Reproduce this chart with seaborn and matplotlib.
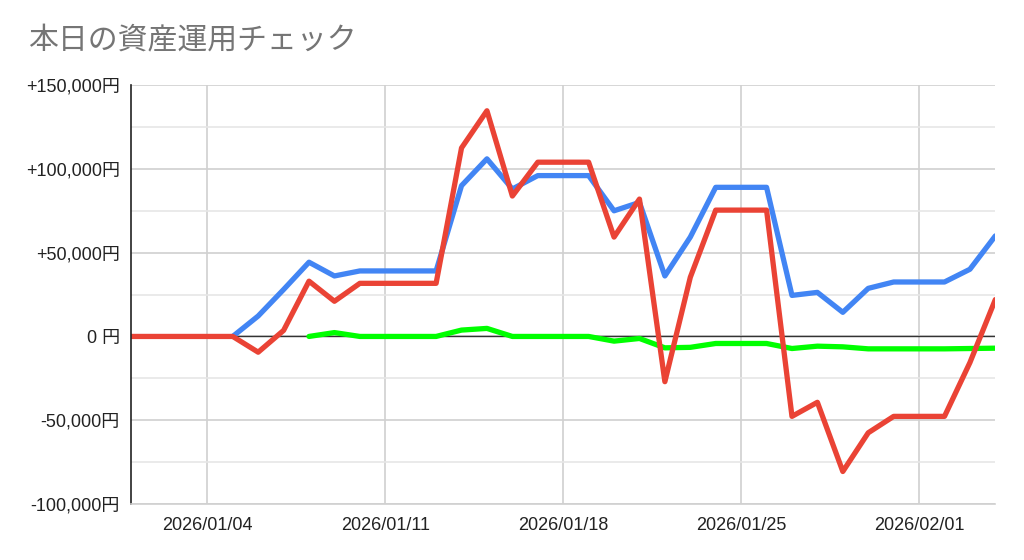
import pandas as pd
import seaborn as sns
import matplotlib.pyplot as plt
import matplotlib.dates as mdates
from matplotlib.ticker import FuncFormatter, MultipleLocator

# daily dates 2026/01/01 - 2026/02/04
dates = pd.date_range("2026-01-01", "2026-02-04", freq="D")

# blue series (starts 01/05)
blue = [None, None, None, None,
        0, 12200, 28000, 44300, 36100, 39100, 39100, 39100, 39100,
        90000, 106000, 88000, 96000, 96000, 96000, 75000, 80000,
        36100, 59300, 89000, 89000, 89000, 24500, 26300, 14400,
        28700, 32500, 32500, 32500, 40100, 60000]

# red series
red = [0, 0, 0, 0, 0, -9400, 3600, 33000, 21000, 31700, 31700, 31700, 31700,
       112500, 134700, 83800, 104000, 104000, 104000, 59300, 82000,
       -27000, 35300, 75400, 75400, 75400, -47700, -39300, -80600,
       -57500, -47700, -47700, -47700, -15600, 22000]

# green series (starts 01/08)
green = [None, None, None, None, None, None, None,
         0, 2300, 0, 0, 0, 0, 3800, 4800, 0, 0, 0, 0, -2800, -1200,
         -6800, -6500, -4200, -4200, -4200, -7200, -5800, -6200,
         -7400, -7400, -7400, -7400, -7200, -7000]

series_names = ["blue", "green", "red"]
colors = {"blue": "#4285F4", "green": "#00FF00", "red": "#EA4335"}


def yen(v, pos):
    if v == 0:
        return "0 円"
    if v > 0:
        return "+{:,.0f}円".format(v)
    return "{:,.0f}円".format(v)


def main():
    df = pd.DataFrame({"date": dates, "blue": blue, "green": green, "red": red})
    long = df.melt(id_vars="date", value_vars=series_names,
                   var_name="series", value_name="value").dropna()
    long["value"] = long["value"].astype(float)

    sns.set_style("white")
    plt.rcParams["font.family"] = ["Liberation Sans", "Noto Sans CJK JP", "DejaVu Sans"]

    fig = plt.figure(figsize=(10.24, 5.6), dpi=100)
    ax = fig.add_axes([0.128, 0.1, 0.844, 0.748])

    sns.lineplot(data=long, x="date", y="value", hue="series",
                 hue_order=series_names, palette=colors,
                 linewidth=3.8, legend=False, ax=ax)

    ax.set_xlim(dates[0], dates[-1])
    ax.set_ylim(-100000, 150000)

    # grid
    ax.yaxis.set_major_locator(MultipleLocator(50000))
    ax.yaxis.set_minor_locator(MultipleLocator(25000))
    ax.xaxis.set_major_locator(mdates.WeekdayLocator(byweekday=mdates.SU))
    ax.xaxis.set_major_formatter(mdates.DateFormatter("%Y/%m/%d"))
    ax.yaxis.set_major_formatter(FuncFormatter(yen))
    ax.grid(True, which="major", color="#d0d0d0", linewidth=1.2)
    ax.grid(True, which="minor", axis="y", color="#e6e6e6", linewidth=1.2)
    ax.axhline(0, color="#333333", linewidth=1.0, zorder=1.5)
    ax.set_axisbelow(True)

    for s in ["top", "right"]:
        ax.spines[s].set_visible(False)
    ax.spines["left"].set_color("#222222")
    ax.spines["left"].set_linewidth(1.2)
    ax.spines["bottom"].set_color("#d0d0d0")
    ax.spines["bottom"].set_linewidth(1.2)

    ax.tick_params(axis="both", which="both", length=0, labelsize=13,
                   colors="#222222")
    ax.tick_params(axis="y", pad=8)
    ax.tick_params(axis="x", pad=9)
    ax.set_xlabel("")
    ax.set_ylabel("")

    fig.text(0.027, 0.927, "本日の資産運用チェック", fontsize=21.5,
             color="#757575", family=["Noto Sans CJK JP"], va="center")

    fig.savefig("out.png", dpi=100, facecolor="white")


if __name__ == "__main__":
    main()
